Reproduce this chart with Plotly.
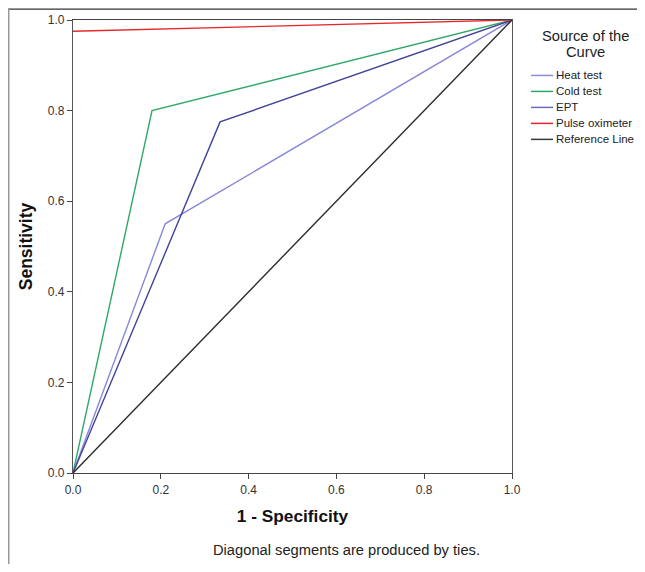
import plotly.graph_objects as go

# ROC curve data (1 - Specificity, Sensitivity)
series_names = ["Heat test", "Cold test", "EPT", "Pulse oximeter", "Reference Line"]
heat_x = [0.0, 0.21, 1.0]
heat_y = [0.0, 0.55, 1.0]
cold_x = [0.0, 0.18, 1.0]
cold_y = [0.0, 0.80, 1.0]
ept_x = [0.0, 0.335, 1.0]
ept_y = [0.0, 0.775, 1.0]
pulse_x = [0.0, 1.0]
pulse_y = [0.975, 1.0]
ref_x = [0.0, 1.0]
ref_y = [0.0, 1.0]
tick_vals = [0.0, 0.2, 0.4, 0.6, 0.8, 1.0]
tick_text = ["0.0", "0.2", "0.4", "0.6", "0.8", "1.0"]

colors = ["#8888d8", "#2fa86a", "#42429a", "#e8262a", "#2a2a2a"]
legend_colors = ["#8c8cdc", "#2fa86a", "#6a6ac0", "#e8262a", "#3a3a3a"]
xs = [heat_x, cold_x, ept_x, pulse_x, ref_x]
ys = [heat_y, cold_y, ept_y, pulse_y, ref_y]

# page body has an 8px margin; positions below are in screen pixels
OFF = 8
FW, FH = 645 - 2 * OFF, 572 - 2 * OFF
L, R, T, B = 73 - OFF, 512 - OFF, 19.5 - OFF, 473 - OFF
W, H = R - L, B - T
def px(x):
    return (x - OFF - L) / W
def py(y):
    return (B - (y - OFF)) / H

fig = go.Figure()
for name, x, y, c in zip(series_names, xs, ys, colors):
    fig.add_trace(go.Scatter(x=x, y=y, mode="lines", name=name,
                             line=dict(color=c, width=1.4), showlegend=False))

FONT = "Liberation Sans, Arial, sans-serif"

annotations = [
    dict(text="Diagonal segments are produced by ties.",
         xref="paper", yref="paper", x=px(211), y=py(550),
         xanchor="left", yanchor="middle", showarrow=False,
         font=dict(size=14.7, color="#222")),
    dict(text="Source of the", xref="paper", yref="paper",
         x=px(585), y=py(36), xanchor="center", yanchor="middle",
         showarrow=False, font=dict(size=14.7, color="#222")),
    dict(text="Curve", xref="paper", yref="paper",
         x=px(585), y=py(52), xanchor="center", yanchor="middle",
         showarrow=False, font=dict(size=14.7, color="#222")),
]
shapes = [
    dict(type="line", xref="paper", yref="paper", x0=px(7.5), x1=px(645),
         y0=py(8.6), y1=py(8.6), line=dict(color="#333", width=1.2)),
    dict(type="line", xref="paper", yref="paper", x0=px(8.75), x1=px(8.75),
         y0=py(8), y1=py(572), line=dict(color="#999", width=1.5)),
]
for i, (name, c) in enumerate(zip(series_names, legend_colors)):
    yc = 75 + 16 * i
    shapes.append(dict(type="line", xref="paper", yref="paper",
                       x0=px(531), x1=px(553), y0=py(yc), y1=py(yc),
                       line=dict(color=c, width=1.5)))
    annotations.append(dict(text=name, xref="paper", yref="paper",
                            x=px(554), y=py(yc), xanchor="left", yanchor="middle",
                            showarrow=False, font=dict(size=11.5, color="#222")))

fig.update_layout(
    width=FW, height=FH,
    margin=dict(l=L, r=FW - R, t=T, b=FH - B),
    paper_bgcolor="white", plot_bgcolor="white",
    font=dict(family=FONT, color="#333"),
    showlegend=False,
    xaxis=dict(range=[0, 1], tickvals=tick_vals, ticktext=tick_text,
               ticks="outside", ticklen=5, tickcolor="#444", automargin=False,
               showline=True, linecolor="#444", linewidth=1.2, mirror=True,
               showgrid=False, zeroline=False,
               tickfont=dict(size=12, color="#333"),
               title=dict(text="<b>1 - Specificity</b>", font=dict(size=17.3, color="#111"),
                          standoff=14)),
    yaxis=dict(range=[0, 1], tickvals=tick_vals, ticktext=tick_text,
               ticks="outside", ticklen=5, tickcolor="#444", automargin=False,
               showline=True, linecolor="#555", linewidth=1.2, mirror=True,
               showgrid=False, zeroline=False,
               tickfont=dict(size=12, color="#333"),
               title=dict(text="<b>Sensitivity</b>", font=dict(size=17.5, color="#111"),
                          standoff=10)),
    annotations=annotations,
    shapes=shapes,
)

fig.write_html("out.html")
